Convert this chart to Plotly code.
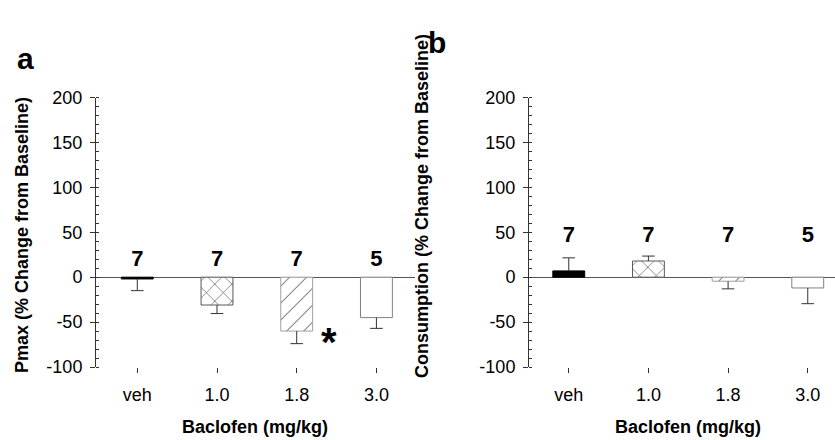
import plotly.graph_objects as go

doses = ["veh", "1.0", "1.8", "3.0"]

pmax_mean = [-2, -31, -60, -45]
pmax_err = [13, 9.5, 14, 12]
pmax_n = ["7", "7", "7", "5"]

cons_mean = [7, 18, -4.5, -12]
cons_err = [14.5, 5.5, 8.5, 17.5]
cons_n = ["7", "7", "7", "5"]

yticks = [-100, -50, 0, 50, 100, 150, 200]
ytick_text = ["-100", "-50", "0", "50", "100", "150", "200"]

fill_colors = ["black", "white", "white", "white"]
outline_colors = ["black", "#5a5a5a", "#a0a0a0", "#808080"]
pattern_shapes = ["", "x", "/", ""]
pattern_fg = ["black", "#111111", "#555555", "black"]
pattern_solidity = [0.1, 0.1, 0.08, 0.1]

FONT = "Liberation Sans, Arial, Helvetica, sans-serif"
AX_COL = "#333333"

fig = go.Figure()


def add_panel(means, errs, ns, xa, ya, n_y):
    plus = [e if m >= 0 else 0 for m, e in zip(means, errs)]
    minus = [e if m < 0 else 0 for m, e in zip(means, errs)]
    fig.add_trace(go.Bar(
        x=doses, y=means, width=0.4,
        marker=dict(color=fill_colors,
                    line=dict(color=outline_colors, width=1),
                    pattern=dict(shape=pattern_shapes, fgcolor=pattern_fg,
                                 fillmode="overlay", fgopacity=1,
                                 size=12, solidity=pattern_solidity)),
        error_y=dict(type="data", symmetric=False, array=plus, arrayminus=minus,
                     color=AX_COL, thickness=1, width=0),
        xaxis=xa, yaxis=ya, showlegend=False, hoverinfo="skip",
    ))
    caps = [m + p - mi for m, p, mi in zip(means, plus, minus)]
    fig.add_trace(go.Scatter(
        x=doses, y=caps, mode="markers",
        marker=dict(symbol="line-ew", size=9, line=dict(color=AX_COL, width=1)),
        xaxis=xa, yaxis=ya, showlegend=False, hoverinfo="skip",
    ))
    fig.add_trace(go.Scatter(
        x=doses, y=[n_y] * len(doses), mode="text", text=ns,
        textfont=dict(family=FONT, size=22, color="black", weight="bold"),
        textposition="middle center",
        xaxis=xa, yaxis=ya, showlegend=False, hoverinfo="skip",
    ))


add_panel(pmax_mean, pmax_err, pmax_n, "x", "y", 18.8)
add_panel(cons_mean, cons_err, cons_n, "x2", "y2", 44.8)

ydom = [0.1659, 0.7784]
common_y = dict(
    range=[-100, 200], tickvals=yticks, ticktext=ytick_text,
    ticks="outside", ticklen=5,
    tickcolor=AX_COL, showline=True, linecolor=AX_COL, linewidth=1,
    showgrid=False, zeroline=True, zerolinecolor="#555555", zerolinewidth=1,
    tickfont=dict(family=FONT, size=18, color="black"),
    minor=dict(dtick=10, ticks="inside", ticklen=3, tickcolor=AX_COL, showgrid=False),
    domain=ydom, fixedrange=True, ticklabelstandoff=4, automargin=False,
)
common_x = dict(
    type="category", showline=False, showgrid=False, zeroline=False,
    ticks="outside", ticklen=5, tickcolor=AX_COL,
    tickfont=dict(family=FONT, size=18, color="black"), fixedrange=True,
    ticklabelstandoff=6, automargin=False,
)

fig.update_layout(
    template="none",
    width=835, height=440,
    margin=dict(l=0, r=0, t=0, b=0, autoexpand=False),
    paper_bgcolor="white", plot_bgcolor="white",
    xaxis=dict(common_x, domain=[96 / 835, 415 / 835], range=[-0.518, 3.484], anchor="y"),
    yaxis=dict(common_y, anchor="x"),
    xaxis2=dict(common_x, domain=[529 / 835, 1.0], range=[-0.499, 3.342], anchor="y2"),
    yaxis2=dict(common_y, anchor="x2"),
)

bold = dict(family=FONT, size=18, color="black", weight="bold")
annots = [
    dict(text="Pmax (% Change from Baseline)", x=22 / 835, y=(440 - 235) / 440,
         textangle=-90, font=bold),
    dict(text="Consumption (% Change from Baseline)", x=422 / 835, y=(440 - 206) / 440,
         textangle=-90, font=bold),
    dict(text="Baclofen (mg/kg)", x=255 / 835, y=(440 - 427) / 440, font=bold),
    dict(text="Baclofen (mg/kg)", x=688 / 835, y=(440 - 427) / 440, font=bold),
    dict(text="a", x=25 / 835, y=(440 - 58) / 440,
         font=dict(family=FONT, size=30, color="black", weight="bold")),
    dict(text="b", x=437 / 835, y=(440 - 42) / 440,
         font=dict(family=FONT, size=30, color="black", weight="bold")),
]
for a in annots:
    fig.add_annotation(xref="paper", yref="paper", showarrow=False,
                       xanchor="center", yanchor="middle", **a)

fig.add_annotation(text="*", x=2.4, y=-64, xref="x", yref="y", showarrow=False,
                   xanchor="center", yanchor="middle", yshift=-7,
                   font=dict(family=FONT, size=40, color="black", weight="bold"))

fig.write_html(
    "out.html",
    config={"displayModeBar": False, "staticPlot": True},
    post_script="document.body.style.margin='0';document.body.style.overflow='hidden';",
)
